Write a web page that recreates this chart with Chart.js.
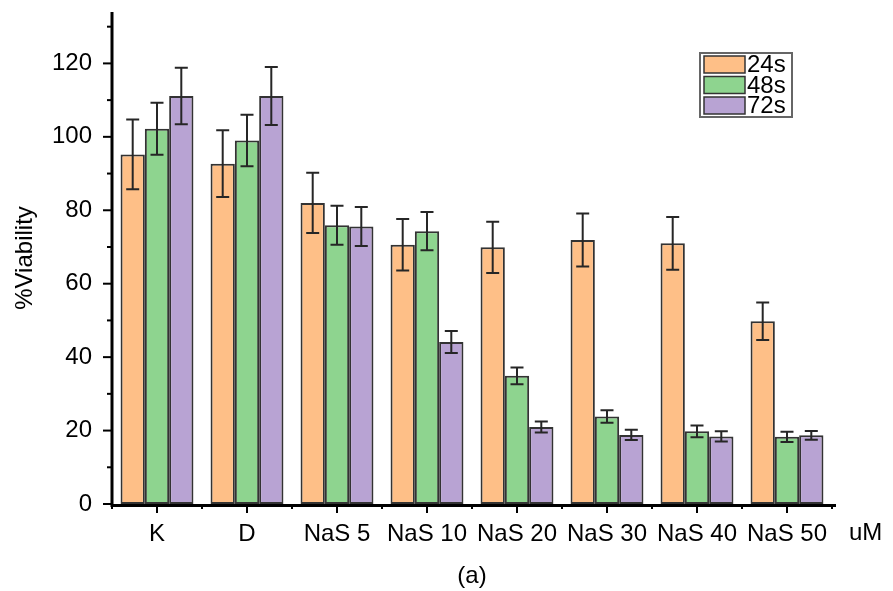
<!DOCTYPE html>
<html>
<head>
<meta charset="utf-8">
<script src="https://cdn.jsdelivr.net/npm/chart.js@4/dist/chart.umd.min.js"></script>
<style>
html,body{margin:0;padding:0;background:#fff;}
canvas{display:block;}
</style>
</head>
<body>
<canvas id="c" width="893" height="591"></canvas>
<script>
const categories = ["K", "D", "NaS 5", "NaS 10", "NaS 20", "NaS 30", "NaS 40", "NaS 50"];
const seriesLabels = ["24s", "48s", "72s"];
const v24 = [95.2, 92.7, 82.0, 70.6, 69.9, 71.9, 71.0, 49.8];
const v48 = [102.2, 99.0, 75.9, 74.3, 34.9, 23.8, 19.8, 18.3];
const v72 = [111.1, 111.1, 75.6, 44.1, 21.0, 18.8, 18.4, 18.7];
const e24 = [9.5, 9.1, 8.2, 7.0, 7.0, 7.2, 7.2, 5.1];
const e48 = [7.1, 7.0, 5.3, 5.2, 2.3, 1.7, 1.6, 1.4];
const e72 = [7.7, 7.9, 5.3, 3.0, 1.5, 1.4, 1.4, 1.2];
const yTicks = [0, 20, 40, 60, 80, 100, 120];

const fills = ["#FEBF87", "#8ED48F", "#B8A3D3"];
const edge = "#333333";
const errs = [e24, e48, e72];
const FONT = "'Liberation Sans', Arial, sans-serif";

const decorPlugin = {
  id: "decor",
  afterDatasetsDraw(chart) {
    const ctx = chart.ctx;
    const y = chart.scales.y, x = chart.scales.x;
    const area = chart.chartArea;
    ctx.save();
    // error bars
    ctx.strokeStyle = "#262626";
    ctx.lineWidth = 2;
    chart.data.datasets.forEach((ds, di) => {
      const meta = chart.getDatasetMeta(di);
      meta.data.forEach((bar, i) => {
        const v = ds.data[i], e = errs[di][i];
        const yt = y.getPixelForValue(v + e), yb = y.getPixelForValue(v - e);
        const cx = bar.x, cw = 6.5;
        ctx.beginPath();
        ctx.moveTo(cx, yt); ctx.lineTo(cx, yb);
        ctx.moveTo(cx - cw, yt); ctx.lineTo(cx + cw, yt);
        ctx.moveTo(cx - cw, yb); ctx.lineTo(cx + cw, yb);
        ctx.stroke();
      });
    });
    // axes
    ctx.strokeStyle = "#000";
    ctx.lineWidth = 3;
    ctx.beginPath();
    ctx.moveTo(area.left, area.top);
    ctx.lineTo(area.left, area.bottom + 1.5);
    ctx.lineTo(area.right + 4, area.bottom + 1.5);
    ctx.stroke();
    ctx.lineWidth = 2;
    for (let v = 0; v <= y.max; v += 10) {
      const py = y.getPixelForValue(v);
      const len = (v % 20 === 0) ? 9 : 5;
      ctx.beginPath();
      ctx.moveTo(area.left - len, py); ctx.lineTo(area.left, py);
      ctx.stroke();
    }
    const n = categories.length;
    for (let i = 0; i < n; i++) {
      const px = x.getPixelForValue(i);
      ctx.beginPath();
      ctx.moveTo(px, area.bottom); ctx.lineTo(px, area.bottom + 9);
      ctx.stroke();
    }
    for (let i = 0; i <= n; i++) {
      const px = x.getPixelForValue(i - 0.5);
      ctx.beginPath();
      ctx.moveTo(px, area.bottom); ctx.lineTo(px, area.bottom + 5);
      ctx.stroke();
    }
    // unit label
    ctx.fillStyle = "#000";
    ctx.font = "24px " + FONT;
    ctx.textAlign = "left";
    ctx.textBaseline = "middle";
    ctx.fillText("uM", area.right + 17, 533);
    // legend
    const lx = 700, ly = 53, lw = 92, lh = 64;
    ctx.fillStyle = "#fff";
    ctx.fillRect(lx, ly, lw, lh);
    ctx.strokeStyle = "#666";
    ctx.lineWidth = 2;
    ctx.strokeRect(lx, ly, lw, lh);
    chart.data.datasets.forEach((ds, di) => {
      const ry = ly + 3 + di * 20.5;
      ctx.fillStyle = ds.backgroundColor;
      ctx.fillRect(lx + 4, ry, 41, 17);
      ctx.strokeStyle = edge;
      ctx.lineWidth = 1.5;
      ctx.strokeRect(lx + 4, ry, 41, 17);
      ctx.fillStyle = "#000";
      ctx.font = "24px " + FONT;
      ctx.textBaseline = "middle";
      ctx.fillText(ds.label, lx + 47, ry + 9.5);
    });
    ctx.restore();
  }
};

new Chart(document.getElementById("c"), {
  type: "bar",
  data: {
    labels: categories,
    datasets: seriesLabels.map((lab, i) => ({
      label: lab,
      data: [v24, v48, v72][i],
      backgroundColor: fills[i],
      borderColor: edge,
      borderWidth: 2,
      borderSkipped: false,
      categoryPercentage: 0.81,
      barPercentage: 1.0
    }))
  },
  options: {
    responsive: false,
    devicePixelRatio: 1,
    animation: false,
    layout: { padding: { left: 0, top: 12, right: 61, bottom: 0 } },
    plugins: { legend: { display: false }, tooltip: { enabled: false } },
    scales: {
      x: {
        type: "category",
        offset: true,
        grid: { display: false, drawTicks: false },
        border: { display: false },
        ticks: {
          color: "#000",
          font: { size: 24, family: FONT },
          padding: 16,
          maxRotation: 0,
          autoSkip: false
        },
        title: {
          display: true,
          text: "(a)",
          color: "#000",
          font: { size: 24, family: FONT },
          padding: { top: 0, bottom: 0 }
        },
        afterFit(s) { s.height = 87; s.paddingLeft = 0; s.paddingRight = 0; }
      },
      y: {
        min: 0,
        max: 134,
        grid: { display: false, drawTicks: false },
        border: { display: false },
        afterBuildTicks(s) { s.ticks = yTicks.map(v => ({ value: v })); },
        ticks: {
          color: "#000",
          font: { size: 24, family: FONT },
          padding: 20
        },
        title: {
          display: true,
          text: "%Viability",
          color: "#000",
          font: { size: 24, family: FONT },
          padding: { top: 11, bottom: 0 }
        },
        afterFit(s) { s.width = 112; s.paddingTop = 0; s.paddingBottom = 0; }
      }
    }
  },
  plugins: [decorPlugin]
});
</script>
</body>
</html>
